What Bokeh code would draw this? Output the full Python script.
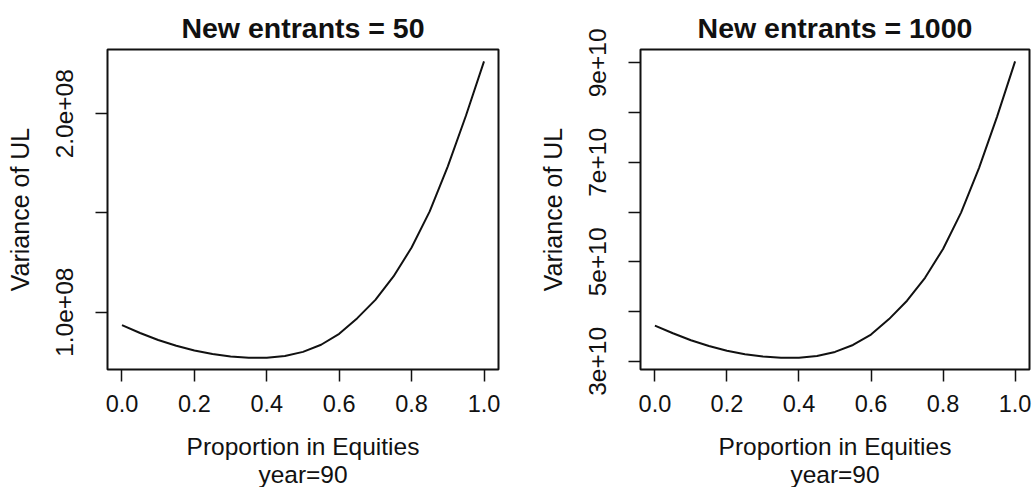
from bokeh.plotting import figure
from bokeh.layouts import row
from bokeh.models import Range1d, FixedTicker, Title
from bokeh.embed import file_html
from bokeh.resources import INLINE

# Proportion of the fund held in equities
proportion = [0.00, 0.05, 0.10, 0.15, 0.20, 0.25, 0.30, 0.35, 0.40, 0.45, 0.50,
              0.55, 0.60, 0.65, 0.70, 0.75, 0.80, 0.85, 0.90, 0.95, 1.00]

# Variance of unfunded liability at year 90, 50 new entrants per year
var_50 = [0.935e8, 0.895e8, 0.860e8, 0.831e8, 0.807e8, 0.789e8, 0.777e8, 0.771e8,
          0.771e8, 0.779e8, 0.800e8, 0.836e8, 0.891e8, 0.970e8, 1.062e8, 1.180e8,
          1.326e8, 1.508e8, 1.735e8, 1.990e8, 2.264e8]

# Variance of unfunded liability at year 90, 1000 new entrants per year
var_1000 = [3.720e10, 3.565e10, 3.425e10, 3.310e10, 3.215e10, 3.145e10, 3.100e10,
            3.075e10, 3.075e10, 3.110e10, 3.190e10, 3.330e10, 3.540e10, 3.850e10,
            4.220e10, 4.680e10, 5.260e10, 5.990e10, 6.890e10, 7.920e10, 9.030e10]

x_ticks = [0.0, 0.2, 0.4, 0.6, 0.8, 1.0]
x_labels = ["0.0", "0.2", "0.4", "0.6", "0.8", "1.0"]

y50_ticks = [1.0e8, 2.0e8]
y50_labels = ["1.0e+08", "2.0e+08"]
y50_minor = [1.5e8]

y1000_ticks = [3e10, 5e10, 7e10, 9e10]
y1000_labels = ["3e+10", "5e+10", "7e+10", "9e+10"]
y1000_minor = [4e10, 6e10, 8e10]

x_title = "Proportion in Equities"
sub_title = "year=90"
y_title = "Variance of UL"

FONT = "Liberation Sans"
INK = "#111111"


def padded(vals, frac=0.04):
    lo, hi = min(vals), max(vals)
    d = (hi - lo) * frac
    return lo - d, hi + d


def panel(title, xs, ys, yticks, ylabels, yminor, border_left, border_right):
    p = figure(width=518, height=487, output_backend="svg", toolbar_location=None,
               min_border_left=border_left, min_border_right=border_right,
               min_border_top=49, min_border_bottom=118)
    x0, x1 = padded(xs)
    y0, y1 = padded(ys)
    p.x_range = Range1d(x0, x1)
    p.y_range = Range1d(y0, y1)

    p.line(xs, ys, line_color=INK, line_width=2, line_join="round")

    p.title.text = title
    p.title.align = "center"
    p.title.text_font = FONT
    p.title.text_font_size = "28.5px"
    p.title.text_font_style = "bold"
    p.title.text_color = INK
    p.title.standoff = 11

    p.grid.visible = False
    p.outline_line_color = INK
    p.outline_line_width = 2
    p.outline_line_alpha = 1.0
    p.background_fill_color = "white"
    p.border_fill_color = "white"

    xa = p.xaxis[0]
    xa.ticker = FixedTicker(ticks=x_ticks)
    xa.major_label_overrides = dict(zip(x_ticks, x_labels))
    xa.major_label_text_font_size = "23.5px"
    xa.major_label_standoff = 13
    xa.axis_label = x_title
    xa.axis_label_text_font_size = "24.5px"
    xa.axis_label_standoff = 18

    # second line of the x title, tucked close under the first
    p.add_layout(Title(text=sub_title, align="center", standoff=-7,
                       text_font=FONT, text_font_size="24.5px",
                       text_font_style="normal", text_color=INK), "below")

    ya = p.yaxis[0]
    ya.ticker = FixedTicker(ticks=yticks, minor_ticks=yminor)
    ya.major_label_overrides = dict(zip(yticks, ylabels))
    ya.major_label_orientation = "vertical"
    ya.major_label_text_font_size = "24.5px"
    ya.major_label_standoff = 22
    ya.axis_label = y_title
    ya.axis_label_text_font_size = "25px"
    ya.axis_label_standoff = 20

    for ax in (xa, ya):
        ax.axis_line_color = None
        ax.major_tick_in = 0
        ax.major_tick_out = 12
        ax.minor_tick_in = 0
        ax.minor_tick_out = 12
        ax.major_tick_line_color = INK
        ax.minor_tick_line_color = INK
        ax.major_tick_line_width = 1.5
        ax.minor_tick_line_width = 1.5
        ax.major_label_text_font = FONT
        ax.major_label_text_color = INK
        ax.axis_label_text_font = FONT
        ax.axis_label_text_font_style = "normal"
        ax.axis_label_text_color = INK
    return p


left = panel("New entrants = 50", proportion, var_50,
             y50_ticks, y50_labels, y50_minor, 107, 20)
right = panel("New entrants = 1000", proportion, var_1000,
              y1000_ticks, y1000_labels, y1000_minor, 122, 7)

layout = row(left, right)
open("out.html", "w").write(file_html(layout, INLINE))
